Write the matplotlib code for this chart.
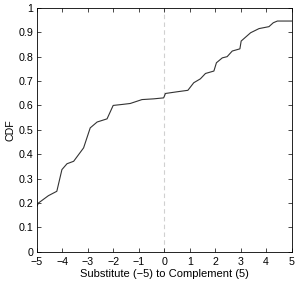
import matplotlib
matplotlib.use("Agg")
import matplotlib.pyplot as plt

# CDF trace
x_vals = [-5.0, -4.93, -4.54, -4.21, -4.01, -3.81, -3.55, -3.16, -2.9, -2.63, -2.24, -2.0,
          -1.65, -1.33, -0.87, -0.41, -0.02, 0.05, 0.51, 0.93, 1.16, 1.42, 1.62, 1.95,
          2.05, 2.28, 2.47, 2.67, 2.97, 3.02, 3.39, 3.72, 4.11, 4.28, 4.44, 5.0]
cdf_vals = [0.185, 0.2, 0.23, 0.248, 0.337, 0.361, 0.371, 0.426, 0.508, 0.532, 0.545, 0.6,
            0.604, 0.608, 0.624, 0.627, 0.631, 0.649, 0.656, 0.662, 0.693, 0.709, 0.731, 0.741,
            0.775, 0.795, 0.8, 0.823, 0.832, 0.864, 0.898, 0.915, 0.923, 0.939, 0.946, 0.946]
x_ticks = [-5, -4, -3, -2, -1, 0, 1, 2, 3, 4, 5]
x_ticklabels = ["\u22125", "\u22124", "\u22123", "\u22122", "\u22121", "0", "1", "2", "3", "4", "5"]
y_ticks = [0, 0.1, 0.2, 0.3, 0.4, 0.5, 0.6, 0.7, 0.8, 0.9, 1]
y_ticklabels = ["0", "0.1", "0.2", "0.3", "0.4", "0.5", "0.6", "0.7", "0.8", "0.9", "1"]

plt.rcParams['font.family'] = ['Liberation Sans', 'DejaVu Sans']

fig = plt.figure(figsize=(2.97, 2.81), dpi=100)
ax = fig.add_axes([0.1235, 0.104, 0.8585, 0.868])

ax.axvline(0, color="#d0d0d0", linestyle=(0, (4, 3)), linewidth=0.8, zorder=1)
ax.plot(x_vals, cdf_vals, color="#333333", linewidth=0.8, zorder=2)

ax.set_xlim(-5, 5)
ax.set_ylim(0, 1)
ax.set_xticks(x_ticks)
ax.set_xticklabels(x_ticklabels)
ax.set_yticks(y_ticks)
ax.set_yticklabels(y_ticklabels)
ax.tick_params(direction="in", length=3, width=0.5, labelsize=7.7, top=True, right=True)
ax.tick_params(axis="x", pad=3.5)
ax.tick_params(axis="y", pad=2.5)
for s in ax.spines.values():
    s.set_linewidth(0.6)

ax.set_xlabel("Substitute (\u22125) to Complement (5)", fontsize=8, labelpad=1.5)
ax.set_ylabel("CDF", fontsize=7.7, labelpad=2)

fig.savefig("out.png", dpi=100)
